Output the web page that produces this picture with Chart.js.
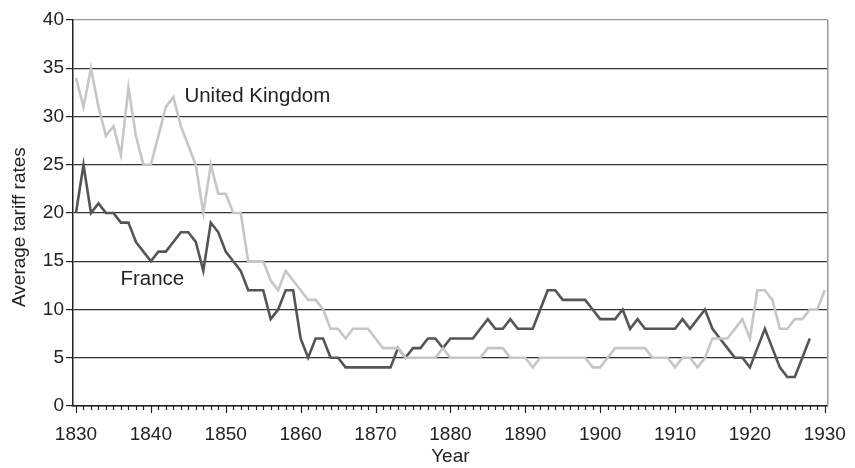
<!DOCTYPE html>
<html>
<head>
<meta charset="utf-8">
<script src="https://cdn.jsdelivr.net/npm/chart.js@4.4.1/dist/chart.umd.min.js"></script>
<style>
  html, body { margin: 0; padding: 0; background: #fff; }
  #wrap { width: 855px; height: 468px; position: relative; }
</style>
</head>
<body>
<div id="wrap"><canvas id="tariff_chart"></canvas></div>
<script>
// years 1830..1930
var years = [];
for (var yr = 1830; yr <= 1930; yr++) years.push(yr);

var uk_rates = [
  34, 31, 35, 31, 28, 29, 26, 33, 28, 25,
  25, 28, 31, 32, 29, 27, 25, 20, 25, 22,
  22, 20, 20, 15, 15, 15, 13, 12, 14, 13,
  12, 11, 11, 10, 8, 8, 7, 8, 8, 8,
  7, 6, 6, 6, 5, 5, 5, 5, 5, 6,
  5, 5, 5, 5, 5, 6, 6, 6, 5, 5,
  5, 4, 5, 5, 5, 5, 5, 5, 5, 4,
  4, 5, 6, 6, 6, 6, 6, 5, 5, 5,
  4, 5, 5, 4, 5, 7, 7, 7, 8, 9,
  7, 12, 12, 11, 8, 8, 9, 9, 10, 10,
  12
];

var france_rates = [
  20, 25, 20, 21, 20, 20, 19, 19, 17, 16,
  15, 16, 16, 17, 18, 18, 17, 14, 19, 18,
  16, 15, 14, 12, 12, 12, 9, 10, 12, 12,
  7, 5, 7, 7, 5, 5, 4, 4, 4, 4,
  4, 4, 4, 6, 5, 6, 6, 7, 7, 6,
  7, 7, 7, 7, 8, 9, 8, 8, 9, 8,
  8, 8, 10, 12, 12, 11, 11, 11, 11, 10,
  9, 9, 9, 10, 8, 9, 8, 8, 8, 8,
  8, 9, 8, 9, 10, 8, 7, 6, 5, 5,
  4, 6, 8, 6, 4, 3, 3, 5, 7, null,
  null
];

var x_tick_labels = [1830, 1840, 1850, 1860, 1870, 1880, 1890, 1900, 1910, 1920, 1930];
var y_tick_labels = [0, 5, 10, 15, 20, 25, 30, 35, 40];

var FONT = "'Liberation Sans', Arial, sans-serif";
var FONT_SIZE = 19;

function to_points(values) {
    return years.map(function (y, i) { return { x: y, y: values[i] }; });
}

// year ticks, labels and right border drawn through the x scale
var tariff_decor = {
    id: 'tariff_decor',
    afterDraw: function (chart) {
        var ctx = chart.ctx;
        var xs = chart.scales.x;
        var ys = chart.scales.y;
        var base = ys.getPixelForValue(0);

        ctx.save();
        ctx.strokeStyle = '#222';
        ctx.lineWidth = 1.2;
        years.forEach(function (y) {
            var px = Math.round(xs.getPixelForValue(y)) + 0.5;
            var len = (y % 10 === 0) ? 7 : 4;
            ctx.beginPath();
            ctx.moveTo(px, base);
            ctx.lineTo(px, base + len);
            ctx.stroke();
        });

        // right border
        ctx.strokeStyle = '#999';
        ctx.lineWidth = 1.5;
        var rx = xs.getPixelForValue(xs.max);
        ctx.beginPath();
        ctx.moveTo(rx, ys.getPixelForValue(40));
        ctx.lineTo(rx, base);
        ctx.stroke();

        // series names
        ctx.fillStyle = '#222';
        ctx.font = '20.5px ' + FONT;
        ctx.textBaseline = 'alphabetic';
        ctx.textAlign = 'left';
        ctx.fillText('United Kingdom', xs.getPixelForValue(1844.48), ys.getPixelForValue(31.47));
        ctx.fillText('France', xs.getPixelForValue(1835.94), ys.getPixelForValue(12.54));

        // axis titles
        ctx.font = FONT_SIZE + 'px ' + FONT;
        ctx.textAlign = 'center';
        ctx.textBaseline = 'middle';
        ctx.fillText('Year', (chart.chartArea.left + chart.chartArea.right) / 2, 457);
        ctx.textAlign = 'left';
        ctx.textBaseline = 'alphabetic';
        ctx.translate(25, 307);
        ctx.rotate(-Math.PI / 2);
        ctx.fillText('Average tariff rates', 0, 0);
        ctx.restore();
    }
};

var ctx = document.getElementById('tariff_chart');

var tariff_chart = new Chart(ctx, {
    type: 'line',
    data: {
        datasets: [{
            label: 'United Kingdom',
            data: to_points(uk_rates),
            borderColor: '#c6c6c6',
            borderWidth: 2.6,
            pointRadius: 0,
            tension: 0,
            spanGaps: false
        }, {
            label: 'France',
            data: to_points(france_rates),
            borderColor: '#555555',
            borderWidth: 2.6,
            pointRadius: 0,
            tension: 0,
            spanGaps: false
        }]
    },
    options: {
        responsive: true,
        maintainAspectRatio: false,
        animation: false,
        layout: {
            padding: { top: 20, right: 23, left: 0, bottom: 0 }
        },
        plugins: {
            legend: { display: false },
            tooltip: { enabled: false }
        },
        scales: {
            x: {
                type: 'linear',
                min: 1829.6,
                max: 1930.4,
                afterBuildTicks: function (scale) {
                    scale.ticks = x_tick_labels.map(function (v) { return { value: v }; });
                },
                afterFit: function (scale) { scale.height = 62; },
                grid: { display: false },
                border: { display: true, color: '#222', width: 1.5 },
                ticks: {
                    color: '#222',
                    padding: 9,
                    maxRotation: 0,
                    autoSkip: false,
                    font: { family: FONT, size: FONT_SIZE },
                    callback: function (v) { return String(v); }
                }
            },
            y: {
                min: 0,
                max: 40,
                afterBuildTicks: function (scale) {
                    scale.ticks = y_tick_labels.map(function (v) { return { value: v }; });
                },
                afterFit: function (scale) { scale.width = 73; },
                grid: {
                    color: function (c) { return c.tick && c.tick.value === 40 ? '#999' : '#333'; },
                    lineWidth: 1.2,
                    tickLength: 7,
                    tickColor: '#222'
                },
                border: { display: true, color: '#222', width: 1.5 },
                ticks: {
                    color: '#222',
                    padding: 2,
                    font: { family: FONT, size: FONT_SIZE }
                }
            }
        }
    },
    plugins: [tariff_decor]
});
</script>
</body>
</html>
